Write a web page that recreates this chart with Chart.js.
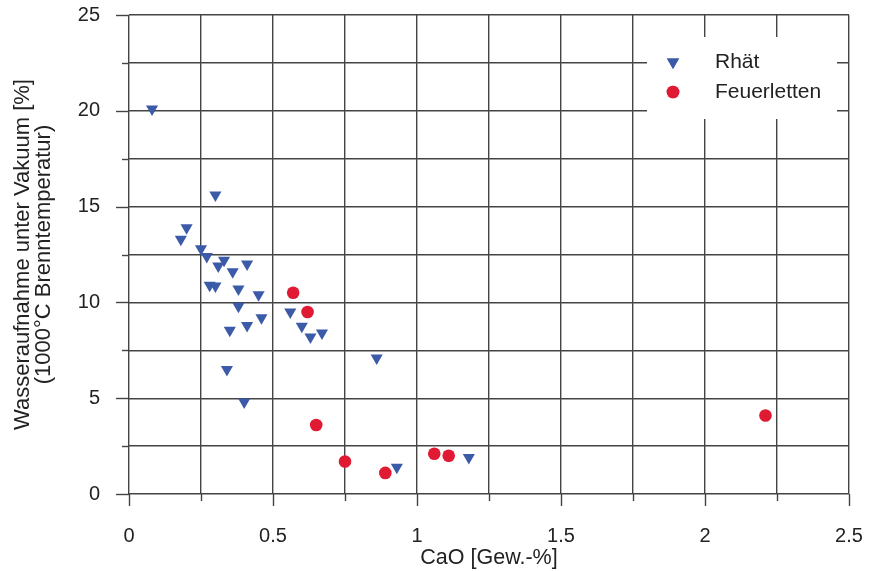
<!DOCTYPE html>
<html lang="de">
<head>
<meta charset="utf-8">
<title>Wasseraufnahme und CaO-Gehalt</title>
<script src="https://cdn.jsdelivr.net/npm/chart.js@4.4.1/dist/chart.umd.min.js"></script>
<style>
  html, body { margin: 0; padding: 0; background: #ffffff; }
  #wrap { width: 873px; height: 571px; position: relative; }
</style>
</head>
<body>
<div id="wrap"><canvas id="chart"></canvas></div>
<script>
// CaO content [wt-%] and water absorption under vacuum [%] per sample
const rhaetCaO = [0.08, 0.30, 0.20, 0.18, 0.25, 0.27, 0.33, 0.31, 0.41, 0.36, 0.28, 0.30, 0.38, 0.45,
                  0.38, 0.56, 0.46, 0.41, 0.35, 0.60, 0.63, 0.67, 0.34, 0.40, 0.86, 0.93, 1.18];
const rhaetWater = [20.1, 15.6, 13.9, 13.3, 12.8, 12.4, 12.2, 11.9, 12.0, 11.6, 10.9, 10.85, 10.7, 10.4,
                    9.8, 9.5, 9.2, 8.8, 8.55, 8.75, 8.2, 8.4, 6.5, 4.8, 7.1, 1.4, 1.9];
const feuerCaO = [0.57, 0.62, 0.65, 0.75, 0.89, 1.06, 1.11, 2.21];
const feuerWater = [10.5, 9.5, 3.6, 1.7, 1.1, 2.1, 2.0, 4.1];

const seriesNames = ['Rhät', 'Feuerletten'];
const xTitle = 'CaO [Gew.-%]';
const yTitle = ['Wasseraufnahme unter Vakuum [%]', '(1000°C Brenntemperatur)'];

// axis ranges and tick spacing
const xMin = 0, xMax = 2.5, xStep = 0.25, xLabelEvery = 0.5;
const yMin = 0, yMax = 25, yStep = 2.5, yLabelEvery = 5;

const FONT = '"Liberation Sans", Arial, Helvetica, sans-serif';
const TEXT = '#222222';
const GRID = '#444444';
const BLUE = '#3b5aa8';
const RED = '#e01a33';

const toPoints = (xs, ys) => xs.map((x, i) => ({ x: x, y: ys[i] }));
const isMultiple = (v, step) => Math.abs(v / step - Math.round(v / step)) < 1e-6;

// outward tick marks: long at labelled values, short in between
const tickMarks = {
  id: 'tickMarks',
  beforeDatasetsDraw(chart) {
    const { ctx, chartArea, scales } = chart;
    ctx.save();
    ctx.strokeStyle = GRID;
    ctx.lineWidth = 1.4;
    scales.x.ticks.forEach(t => {
      const px = Math.round(scales.x.getPixelForValue(t.value)) + 0.5;
      const len = isMultiple(t.value, xLabelEvery) ? 12 : 7;
      ctx.beginPath();
      ctx.moveTo(px, chartArea.bottom);
      ctx.lineTo(px, chartArea.bottom + len);
      ctx.stroke();
    });
    scales.y.ticks.forEach(t => {
      const py = Math.round(scales.y.getPixelForValue(t.value)) + 0.5;
      const len = isMultiple(t.value, yLabelEvery) ? 13 : 7;
      ctx.beginPath();
      ctx.moveTo(chartArea.left - len, py);
      ctx.lineTo(chartArea.left, py);
      ctx.stroke();
    });
    ctx.restore();
  }
};

// legend panel inside the plot, on a white box over the grid
const legendBox = {
  id: 'legendBox',
  afterDatasetsDraw(chart) {
    const { ctx, chartArea } = chart;
    const boxW = 190, boxH = 82;
    const bx = chartArea.right - 12 - boxW;
    const by = chartArea.top + 22;
    ctx.save();
    ctx.fillStyle = '#ffffff';
    ctx.fillRect(bx, by, boxW, boxH);
    ctx.font = '21px ' + FONT;
    ctx.textBaseline = 'middle';
    ctx.textAlign = 'left';
    chart.data.datasets.forEach((ds, i) => {
      const cy = by + 25 + i * 30;
      const mx = bx + 26;
      const style = { pointStyle: ds.pointStyle, radius: ds.pointRadius, rotation: ds.rotation || 0 };
      ctx.fillStyle = ds.backgroundColor;
      ctx.strokeStyle = ds.borderColor;
      ctx.lineWidth = 0;
      Chart.helpers.drawPoint(ctx, style, mx, cy);
      ctx.fill();
      ctx.fillStyle = TEXT;
      ctx.fillText(ds.label, bx + 68, cy);
    });
    ctx.restore();
  }
};

new Chart(document.getElementById('chart'), {
  type: 'scatter',
  data: {
    datasets: [
      {
        label: seriesNames[0],
        data: toPoints(rhaetCaO, rhaetWater),
        pointStyle: 'triangle',
        rotation: 180,
        pointRadius: 7,
        pointHoverRadius: 7,
        backgroundColor: BLUE,
        borderColor: BLUE,
        borderWidth: 0
      },
      {
        label: seriesNames[1],
        data: toPoints(feuerCaO, feuerWater),
        pointStyle: 'circle',
        pointRadius: 6.3,
        pointHoverRadius: 6.3,
        backgroundColor: RED,
        borderColor: RED,
        borderWidth: 0
      }
    ]
  },
  options: {
    responsive: true,
    maintainAspectRatio: false,
    animation: false,
    events: [],
    layout: { padding: { left: 0, top: 15, right: 24, bottom: 0 } },
    plugins: {
      legend: { display: false },
      tooltip: { enabled: false }
    },
    scales: {
      x: {
        type: 'linear',
        min: xMin,
        max: xMax,
        afterFit(scale) { scale.height = 77; },
        border: { display: false },
        grid: { color: GRID, lineWidth: 1.4, drawTicks: true, tickLength: 30, tickColor: 'rgba(0,0,0,0)' },
        ticks: {
          stepSize: xStep,
          autoSkip: false,
          maxRotation: 0,
          padding: 0,
          color: TEXT,
          font: { family: FONT, size: 20 },
          callback: v => isMultiple(v, xLabelEvery) ? String(Math.round(v * 100) / 100) : ''
        },
        title: {
          display: true,
          text: xTitle,
          color: TEXT,
          font: { family: FONT, size: 21.5, lineHeight: 1.1 },
          padding: { top: 0, bottom: 1 }
        }
      },
      y: {
        type: 'linear',
        min: yMin,
        max: yMax,
        afterFit(scale) { scale.width = 129; },
        border: { display: false },
        grid: { color: GRID, lineWidth: 1.4, drawTicks: true, tickLength: 29, tickColor: 'rgba(0,0,0,0)' },
        ticks: {
          stepSize: yStep,
          autoSkip: false,
          padding: 0,
          color: TEXT,
          font: { family: FONT, size: 20 },
          callback: v => isMultiple(v, yLabelEvery) ? String(Math.round(v)) : ''
        },
        title: {
          display: true,
          text: yTitle,
          color: TEXT,
          font: { family: FONT, size: 22, lineHeight: 0.98 },
          padding: { top: 12, bottom: 0 }
        }
      }
    }
  },
  plugins: [tickMarks, legendBox]
});
</script>
</body>
</html>
